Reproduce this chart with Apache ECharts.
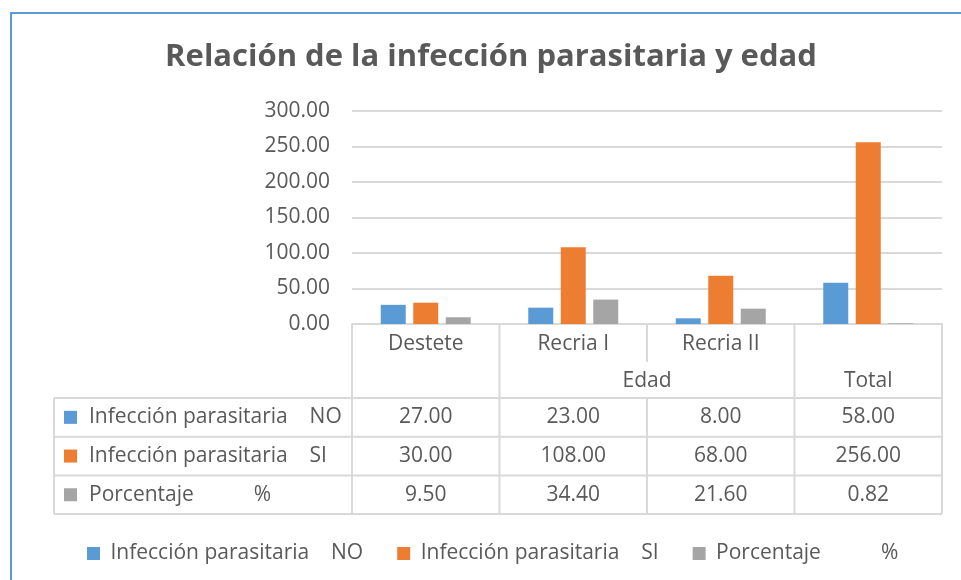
<!DOCTYPE html>
<html>
<head>
<meta charset="utf-8">
<script src="https://cdn.jsdelivr.net/npm/echarts@6/dist/echarts.min.js"></script>
<style>
  html, body { margin: 0; padding: 0; background: #fff; }
  #main { width: 961px; height: 580px; }
</style>
</head>
<body>
<div id="main"></div>
<script>
// Données du graphique
const categories = ["Destete", "Recria I", "Recria II", ""];
const groupLabels = ["", "Edad", "Edad", "Total"];
const seriesNames = [
    "Infección parasitaria    NO",
    "Infección parasitaria    SI",
    "Porcentaje           %"
];
const infeccionNo = [27, 23, 8, 58];
const infeccionSi = [30, 108, 68, 256];
const porcentaje = [9.5, 34.4, 21.6, 0.82];
const yTicks = { min: 0, max: 300, interval: 50 };

const colors = ["#5b9bd5", "#ed7d31", "#a5a5a5"];
const textColor = "#595959";
const lineColor = "#d9d9d9";
const font = "'Open Sans', 'Noto Sans', sans-serif";
const allSeries = [infeccionNo, infeccionSi, porcentaje];

const chart = echarts.init(document.getElementById("main"));

const option = {
    backgroundColor: "#fff",
    animation: false,
    color: colors,
    title: {
        text: "Relación de la infección parasitaria y edad",
        left: 486,
        textAlign: "center",
        top: 37,
        textStyle: { color: textColor, fontFamily: font, fontWeight: "bold", fontSize: 31 }
    },
    legend: {
        data: seriesNames,
        left: 82,
        top: 538,
        icon: "rect",
        itemWidth: 13,
        itemHeight: 13,
        itemGap: 34,
        formatter: n => " " + n,
        textStyle: { color: textColor, fontFamily: font, fontSize: 21 }
    },
    grid: { left: 352, right: 19, top: 111, bottom: 256, containLabel: false },
    xAxis: {
        type: "category",
        data: categories,
        axisLine: { lineStyle: { color: lineColor, width: 2 } },
        axisTick: { show: false },
        axisLabel: { interval: 0, margin: 10, color: textColor, fontFamily: font, fontSize: 21 }
    },
    yAxis: {
        type: "value",
        min: yTicks.min,
        max: yTicks.max,
        interval: yTicks.interval,
        axisLine: { show: false },
        axisTick: { show: false },
        splitLine: { lineStyle: { color: lineColor, width: 2 } },
        axisLabel: {
            margin: 22,
            color: textColor,
            fontFamily: font,
            fontSize: 21,
            formatter: v => v.toFixed(2)
        }
    },
    series: seriesNames.map((name, i) => ({
        name: name,
        type: "bar",
        barWidth: 25,
        barGap: "30%",
        data: allSeries[i]
    }))
};

chart.setOption(option);

// === Tableau de données sous le graphique ===
function buildTable() {
    const xs = categories.map((c, i) => chart.convertToPixel({ xAxisIndex: 0 }, i));
    const step = xs[1] - xs[0];
    const edges = [xs[0] - step / 2].concat(xs.map(x => x + step / 2));
    const y0 = chart.convertToPixel({ yAxisIndex: 0 }, 0);
    const row1 = y0 + 38;
    const row2 = y0 + 74;
    const rowH = 38.7;
    const tableLeft = 54;
    const right = edges[edges.length - 1];
    const g = [];

    const line = (x1, y1, x2, y2) => g.push({
        type: "line", silent: true,
        shape: { x1, y1, x2, y2 },
        style: { stroke: lineColor, lineWidth: 2 }
    });
    const text = (t, x, y, align) => g.push({
        type: "text", silent: true, x, y,
        style: { text: t, fill: textColor, fontFamily: font, fontSize: 21, align: align || "center", verticalAlign: "middle" }
    });

    // cadre extérieur bleu
    g.push({
        type: "rect", silent: true, z: -1,
        shape: { x: 11, y: 13, width: 1200, height: 1200 },
        style: { fill: null, stroke: "#5b9bd5", lineWidth: 2 }
    });

    // en-têtes : lignes verticales
    edges.forEach((x, k) => {
        line(x, y0, x, row1);
        const merged = k > 0 && k < edges.length - 1 && groupLabels[k - 1] === groupLabels[k];
        if (!merged) line(x, row1, x, row2);
    });

    // deuxième niveau : Edad / Total
    let start = 0;
    for (let i = 1; i <= groupLabels.length; i++) {
        if (i === groupLabels.length || groupLabels[i] !== groupLabels[start]) {
            if (groupLabels[start]) text(groupLabels[start], (edges[start] + edges[i]) / 2, (row1 + row2) / 2 + 1);
            start = i;
        }
    }

    // lignes de données
    const nRows = seriesNames.length;
    for (let r = 0; r <= nRows; r++) line(tableLeft, row2 + r * rowH, right, row2 + r * rowH);
    [tableLeft].concat(edges).forEach(x => line(x, row2, x, row2 + nRows * rowH));

    seriesNames.forEach((name, r) => {
        const cy = row2 + r * rowH + rowH / 2;
        g.push({
            type: "rect", silent: true,
            shape: { x: 64, y: cy - 6.5, width: 13, height: 13 },
            style: { fill: colors[r] }
        });
        text(name, 89, cy, "left");
        allSeries[r].forEach((v, i) => text(v.toFixed(2), xs[i], cy));
    });

    chart.setOption({ graphic: g });
}

buildTable();

window.addEventListener("resize", () => {
    chart.resize();
    buildTable();
});
</script>
</body>
</html>
